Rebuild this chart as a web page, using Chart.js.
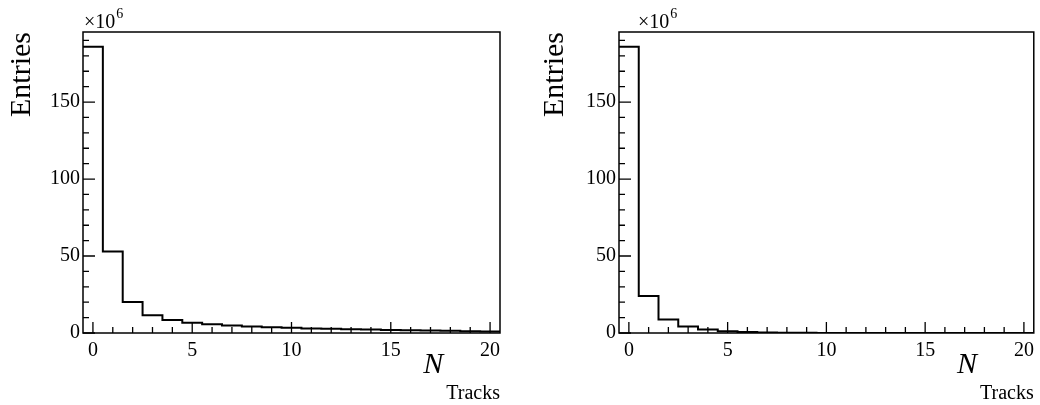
<!DOCTYPE html>
<html lang="en">
<head>
  <meta charset="UTF-8">
  <title>N Tracks</title>
  <script src="https://cdn.jsdelivr.net/npm/chart.js"></script>
  <style>
    body { margin: 0; background: #fff; }
    .row { display: flex; width: 1040px; height: 405px; }
  </style>
</head>
<body>
  <div class="row">
    <canvas id="left" width="520" height="405"></canvas>
    <canvas id="right" width="520" height="405"></canvas>
  </div>
  <script>
    // bin centres (N tracks) and entries in units of 10^6
    const nTracks = [0, 1, 2, 3, 4, 5, 6, 7, 8, 9, 10, 11, 12, 13, 14, 15, 16, 17, 18, 19, 20];
    const entriesLeft = [186, 53, 20.2, 11.5, 8.4, 6.7, 5.7, 4.9, 4.3, 3.8, 3.4, 3.0, 2.7, 2.5, 2.2, 2.0, 1.8, 1.6, 1.4, 1.2, 1.0];
    const entriesRight = [186, 24, 8.8, 4.3, 2.3, 1.2, 0.6, 0.35, 0.2, 0.1, 0.06, 0.04, 0.02, 0.01, 0.01, 0, 0, 0, 0, 0, 0];
    const xTicks = [0, 5, 10, 15, 20];
    const yTicks = [0, 50, 100, 150];
    const yMax = 195.5;

    const serif = 'Liberation Serif';

    // turn bin contents into step points at the bin edges
    const toSteps = (centres, values) => {
      const pts = centres.map((c, i) => ({ x: c - 0.5, y: values[i] }));
      pts.push({ x: centres[centres.length - 1] + 0.5, y: values[values.length - 1] });
      return pts;
    };

    // ROOT-like frame, inner ticks and the extra labels
    const rootFrame = {
      id: 'rootFrame',
      afterDraw(chart, args, o) {
        const { ctx, chartArea: a, scales: { x, y } } = chart;
        ctx.save();
        ctx.strokeStyle = '#000';
        ctx.lineWidth = 1.3;
        ctx.beginPath();
        for (let v = 0; v <= 20; v++) {
          const px = x.getPixelForValue(v);
          ctx.moveTo(px, a.bottom);
          ctx.lineTo(px, a.bottom - (v % 5 === 0 ? 11 : 6));
        }
        for (let v = 0; v <= 190; v += 10) {
          const py = y.getPixelForValue(v);
          ctx.moveTo(a.left, py);
          ctx.lineTo(a.left + (v % 50 === 0 ? 12 : 6), py);
        }
        ctx.stroke();
        ctx.lineWidth = 1.5;
        ctx.strokeRect(a.left, a.top, a.right - a.left, a.bottom - a.top);

        ctx.fillStyle = '#000';
        ctx.textBaseline = 'alphabetic';
        // exponent label
        ctx.textAlign = 'left';
        ctx.font = `20px "${serif}"`;
        ctx.fillText('\u00d710', o.expX, 28);
        const w = ctx.measureText('\u00d710').width;
        ctx.font = `14px "${serif}"`;
        ctx.fillText('6', o.expX + w + 1, 18);

        // x axis title N_Tracks
        ctx.textAlign = 'right';
        ctx.font = `20px "${serif}"`;
        ctx.fillText('Tracks', a.right, 399);
        const wt = ctx.measureText('Tracks').width;
        ctx.font = `italic 30px "${serif}"`;
        ctx.fillText('N', a.right - wt - 3, 373);
        ctx.restore();
      }
    };

    const createPanel = (id, values, padLeft, padRight, yWidth, expX) => {
      const ctx = document.getElementById(id).getContext('2d');
      new Chart(ctx, {
        type: 'line',
        data: {
          datasets: [{
            data: toSteps(nTracks, values),
            stepped: 'before',
            borderColor: '#000',
            borderWidth: 2,
            pointRadius: 0,
            fill: false
          }]
        },
        options: {
          responsive: false,
          animation: false,
          layout: { padding: { left: padLeft, right: padRight, top: 32, bottom: 0 } },
          plugins: {
            legend: { display: false },
            tooltip: { enabled: false },
            rootFrame: { expX: expX }
          },
          scales: {
            x: {
              type: 'linear',
              min: -0.5,
              max: 20.5,
              grid: { display: false, drawTicks: false },
              border: { display: false },
              afterBuildTicks: s => { s.ticks = xTicks.map(v => ({ value: v })); },
              afterFit: s => { s.height = 72; },
              ticks: {
                color: '#000',
                padding: 6,
                maxRotation: 0,
                font: { family: serif, size: 20 },
                callback: v => String(v)
              }
            },
            y: {
              min: 0,
              max: yMax,
              grid: { display: false, drawTicks: false },
              border: { display: false },
              afterBuildTicks: s => { s.ticks = yTicks.map(v => ({ value: v })); },
              afterFit: s => { s.width = yWidth; },
              ticks: {
                color: '#000',
                padding: 3,
                font: { family: serif, size: 20 },
                callback: v => String(v)
              },
              title: {
                display: true,
                text: 'Entries',
                align: 'end',
                color: '#000',
                padding: { top: 4, bottom: 0 },
                font: { family: serif, size: 30, weight: 'normal' }
              }
            }
          }
        },
        plugins: [rootFrame]
      });
    };

    createPanel('left', entriesLeft, 0, 20, 83, 84);
    createPanel('right', entriesRight, 13, 4, 86, 118);
  </script>
</body>
</html>
